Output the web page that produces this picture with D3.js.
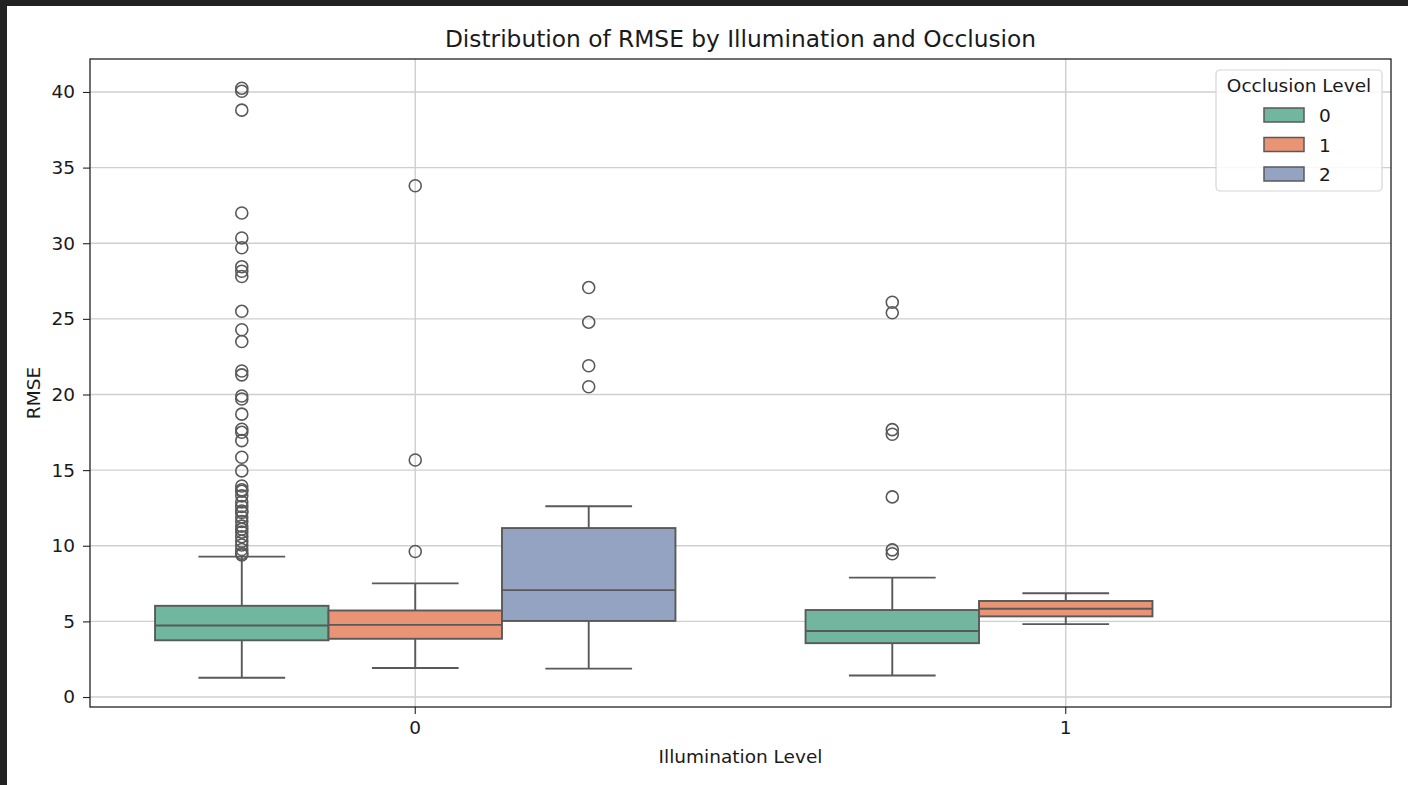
<!DOCTYPE html>
<html>
<head>
<meta charset="utf-8">
<script src="https://cdn.jsdelivr.net/npm/d3@7"></script>
<style>
  html, body { margin: 0; padding: 0; background: #ffffff; }
  svg { display: block; }
  text { font-family: "DejaVu Sans", sans-serif; fill: #1a1a1a; }
</style>
</head>
<body>
<svg id="chart" width="1408" height="785"></svg>
<script>
// Categories
const illuminationLevels = ["0", "1"];
const occlusionLevels = ["0", "1", "2"];
const yTicks = [0, 5, 10, 15, 20, 25, 30, 35, 40];

// One entry per (illumination, occlusion) box
const groupIllum = ["0", "0", "0", "1", "1"];
const groupOccl  = ["0", "1", "2", "0", "1"];
const whiskerLow  = [1.27, 1.92, 1.88, 1.42, 4.82];
const q1          = [3.75, 3.85, 5.03, 3.56, 5.33];
const median      = [4.73, 4.77, 7.07, 4.36, 5.84];
const q3          = [6.03, 5.72, 11.17, 5.75, 6.35];
const whiskerHigh = [9.28, 7.51, 12.61, 7.89, 6.86];
const outliers = [
  [40.25, 40.05, 38.8, 32.0, 30.35, 29.7, 28.45, 28.15, 27.8, 25.5, 24.28, 23.5,
   21.55, 21.3, 19.9, 19.7, 18.7, 17.7, 17.5, 16.95, 15.85, 14.95,
   13.95, 13.7, 13.6, 13.3, 12.9, 12.6, 12.3, 12.2, 11.9, 11.6, 11.3, 11.1,
   10.9, 10.6, 10.3, 10.05, 9.75, 9.5, 9.4],
  [9.62, 15.67, 33.8],
  [20.51, 21.9, 24.78, 27.07],
  [9.47, 9.73, 13.23, 17.37, 17.68, 25.4, 26.1],
  []
];

const palette = ["#71b7a0", "#e99575", "#95a3c3"];
const lineColor = "#595959";
const gridColor = "#cfcfcf";
const labelSize = 18.5;

const svg = d3.select("#chart");
const plot = { left: 90, right: 1391, top: 59, bottom: 707 };

const x = d3.scaleBand().domain(illuminationLevels).range([plot.left, plot.right]).padding(0);
const hue = d3.scaleBand().domain(occlusionLevels)
  .range([-0.4 * x.bandwidth(), 0.4 * x.bandwidth()]).padding(0);
const y = d3.scaleLinear().domain([-0.66, 42.18]).range([plot.bottom, plot.top]);
const color = d3.scaleOrdinal().domain(occlusionLevels).range(palette);

// Window frame strips
svg.append("rect").attr("x", 0).attr("y", 0).attr("width", 1408).attr("height", 6).attr("fill", "#222222");
svg.append("rect").attr("x", 0).attr("y", 0).attr("width", 7).attr("height", 785).attr("fill", "#222222");

// Grid
const grid = svg.append("g");
grid.selectAll("line.h").data(yTicks).join("line")
  .attr("x1", plot.left).attr("x2", plot.right)
  .attr("y1", d => y(d)).attr("y2", d => y(d))
  .attr("stroke", gridColor).attr("stroke-width", 1.4);
grid.selectAll("line.v").data(illuminationLevels).join("line")
  .attr("x1", d => x(d) + x.bandwidth() / 2).attr("x2", d => x(d) + x.bandwidth() / 2)
  .attr("y1", plot.top).attr("y2", plot.bottom)
  .attr("stroke", gridColor).attr("stroke-width", 1.4);

// Boxes
const boxW = hue.bandwidth();
const boxes = svg.append("g");
groupIllum.forEach((il, i) => {
  const cx = x(il) + x.bandwidth() / 2 + hue(groupOccl[i]) + boxW / 2;
  const g = boxes.append("g");
  // whiskers
  g.append("line").attr("x1", cx).attr("x2", cx)
    .attr("y1", y(q3[i])).attr("y2", y(whiskerHigh[i]))
    .attr("stroke", lineColor).attr("stroke-width", 1.9);
  g.append("line").attr("x1", cx).attr("x2", cx)
    .attr("y1", y(q1[i])).attr("y2", y(whiskerLow[i]))
    .attr("stroke", lineColor).attr("stroke-width", 1.9);
  [whiskerHigh[i], whiskerLow[i]].forEach(v => {
    g.append("line").attr("x1", cx - boxW / 4).attr("x2", cx + boxW / 4)
      .attr("y1", y(v)).attr("y2", y(v))
      .attr("stroke", lineColor).attr("stroke-width", 1.9);
  });
  // box
  g.append("rect")
    .attr("x", cx - boxW / 2).attr("width", boxW)
    .attr("y", y(q3[i])).attr("height", y(q1[i]) - y(q3[i]))
    .attr("fill", color(groupOccl[i]))
    .attr("stroke", lineColor).attr("stroke-width", 1.9);
  // median
  g.append("line").attr("x1", cx - boxW / 2).attr("x2", cx + boxW / 2)
    .attr("y1", y(median[i])).attr("y2", y(median[i]))
    .attr("stroke", lineColor).attr("stroke-width", 1.9);
  // fliers
  g.selectAll("circle").data(outliers[i]).join("circle")
    .attr("cx", cx).attr("cy", d => y(d)).attr("r", 6)
    .attr("fill", "none").attr("stroke", lineColor).attr("stroke-width", 1.6);
});

// Axes
const yAxis = d3.axisLeft(y).tickValues(yTicks).tickSize(7).tickPadding(8);
const gy = svg.append("g").attr("transform", `translate(${plot.left},0)`).call(yAxis);
gy.select(".domain").remove();
gy.selectAll(".tick line").attr("stroke", "#222").attr("stroke-width", 1.1);
gy.selectAll(".tick text").attr("font-size", labelSize).attr("font-family", "DejaVu Sans").attr("fill", "#1a1a1a");

const xAxis = d3.axisBottom(x).tickSize(7).tickPadding(7);
const gx = svg.append("g").attr("transform", `translate(0,${plot.bottom})`).call(xAxis);
gx.select(".domain").remove();
gx.selectAll(".tick line").attr("stroke", "#222").attr("stroke-width", 1.1);
gx.selectAll(".tick text").attr("font-size", labelSize).attr("font-family", "DejaVu Sans").attr("fill", "#1a1a1a");

// Spines
svg.append("rect")
  .attr("x", plot.left).attr("y", plot.top)
  .attr("width", plot.right - plot.left).attr("height", plot.bottom - plot.top)
  .attr("fill", "none").attr("stroke", "#222").attr("stroke-width", 1.3);

// Titles
svg.append("text").attr("x", (plot.left + plot.right) / 2).attr("y", 47)
  .attr("text-anchor", "middle").attr("font-size", 23.3)
  .text("Distribution of RMSE by Illumination and Occlusion");
svg.append("text").attr("x", (plot.left + plot.right) / 2).attr("y", 763)
  .attr("text-anchor", "middle").attr("font-size", labelSize)
  .text("Illumination Level");
svg.append("text")
  .attr("transform", `translate(40,${(plot.top + plot.bottom) / 2 + 10}) rotate(-90)`)
  .attr("text-anchor", "middle").attr("font-size", labelSize)
  .text("RMSE");

// Legend
const lg = svg.append("g").attr("transform", "translate(1216,70)");
lg.append("rect").attr("width", 166).attr("height", 121).attr("rx", 4)
  .attr("fill", "#ffffff").attr("fill-opacity", 0.85)
  .attr("stroke", "#d6d6d6").attr("stroke-width", 1.2);
lg.append("text").attr("x", 83).attr("y", 22).attr("text-anchor", "middle")
  .attr("font-size", labelSize).text("Occlusion Level");
occlusionLevels.forEach((o, i) => {
  const yy = 38 + i * 29.5;
  lg.append("rect").attr("x", 48).attr("y", yy).attr("width", 40).attr("height", 14)
    .attr("fill", color(o)).attr("stroke", lineColor).attr("stroke-width", 1.5);
  lg.append("text").attr("x", 103).attr("y", yy + 14).attr("font-size", labelSize).text(o);
});
</script>
</body>
</html>
